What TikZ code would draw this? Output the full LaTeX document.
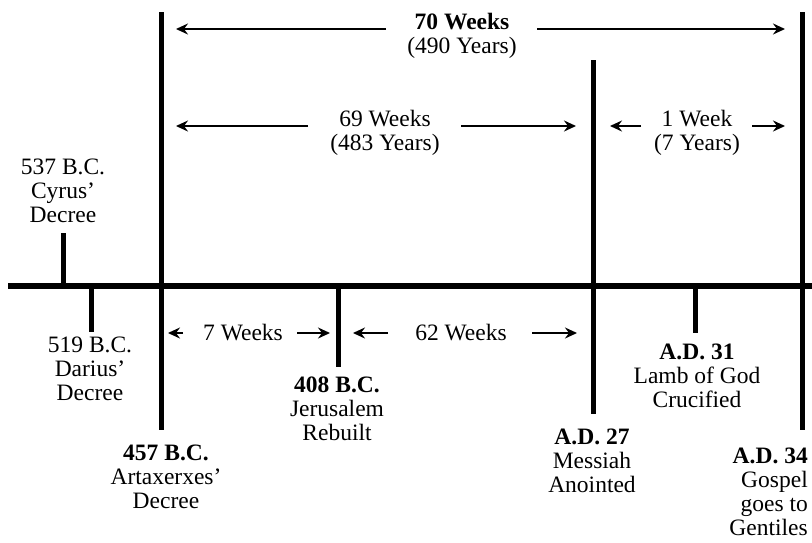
\documentclass[tikz,border=0pt]{standalone}
\usepackage{fontspec}
\setmainfont{Liberation Serif}
\usetikzlibrary{arrows.meta}
\begin{document}
\begin{tikzpicture}[x=1pt,y=-1pt,
    bar/.style={line width=5pt},
    span/.style={line width=1.8pt,-{Stealth[length=12pt,width=11pt,inset=4pt]}},
    lbl/.style={font=\fontsize{23.5}{24}\selectfont,align=center,inner sep=0pt,anchor=north}]
  \def\ax{286} \def\up{29} \def\mid{126} \def\lo{333}
  \useasboundingbox (0,0) rectangle (812,542);
  % time line
  \coordinate (L) at (8,\ax); \coordinate (R) at (812,\ax);
  \draw[line width=6pt] (L) -- (R);
  % year marks
  \coordinate (t537) at (63,233);  \coordinate (a537) at (63,\ax);
  \coordinate (a519) at (91,\ax);  \coordinate (t519) at (91,332);
  \coordinate (t457) at (161,12);  \coordinate (b457) at (161,430);
  \coordinate (a408) at (338,\ax); \coordinate (t408) at (338,367);
  \coordinate (t27) at (593,60);   \coordinate (b27) at (593,414);
  \coordinate (a31) at (695,\ax);  \coordinate (t31) at (695,333);
  \coordinate (t34) at (802,12);   \coordinate (b34) at (802,430);
  \draw[bar] (t537) -- (a537);
  \draw[bar] (a519) -- (t519);
  \draw[bar] (t457) -- (b457);
  \draw[bar] (a408) -- (t408);
  \draw[bar] (t27) -- (b27);
  \draw[bar] (a31) -- (t31);
  \draw[bar] (t34) -- (b34);
  % dates
  \node[lbl] (cyrus) at (63,159) {537 B.C.\\Cyrus'\\Decree};
  \node[lbl] (darius) at (90,337) {519 B.C.\\Darius'\\Decree};
  \node[lbl] (artax) at (166,445) {\textbf{457 B.C.}\\Artaxerxes'\\Decree};
  \node[lbl] (jerus) at (337,377) {\textbf{408 B.C.}\\Jerusalem\\Rebuilt};
  \node[lbl] (messiah) at (592,429) {\textbf{A.D. 27}\\Messiah\\Anointed};
  \node[lbl] (lamb) at (697,344) {\textbf{A.D. 31}\\Lamb of God\\Crucified};
  \node[lbl,anchor=north east,align=right] (gospel) at (808,448) {\textbf{A.D. 34}\\Gospel\\goes to\\Gentiles};
  % periods
  \node[lbl] (w70) at (462,13) {\textbf{70 Weeks}\\(490 Years)};
  \node[lbl] (w69) at (385,110) {69 Weeks\\(483 Years)};
  \node[lbl] (w1) at (697,110) {1 Week\\(7 Years)};
  \node[lbl,anchor=center] (w7) at (243,\lo) {7 Weeks};
  \node[lbl,anchor=center] (w62) at (461,\lo) {62 Weeks};
  \coordinate (p1) at (386,\up); \coordinate (p1t) at (176,\up);
  \coordinate (p2) at (537,\up); \coordinate (p2t) at (785,\up);
  \coordinate (p3) at (308,\mid); \coordinate (p3t) at (176,\mid);
  \coordinate (p4) at (461,\mid); \coordinate (p4t) at (576,\mid);
  \coordinate (p5) at (641,\mid); \coordinate (p5t) at (610,\mid);
  \coordinate (p6) at (752,\mid); \coordinate (p6t) at (785,\mid);
  \coordinate (p7) at (183,\lo); \coordinate (p7t) at (168,\lo);
  \coordinate (p8) at (297,\lo); \coordinate (p8t) at (330,\lo);
  \coordinate (p9) at (388,\lo); \coordinate (p9t) at (353,\lo);
  \coordinate (p10) at (532,\lo); \coordinate (p10t) at (577,\lo);
  \foreach \i in {1,...,10} \draw[span] (p\i) -- (p\i t);
\end{tikzpicture}
\end{document}
